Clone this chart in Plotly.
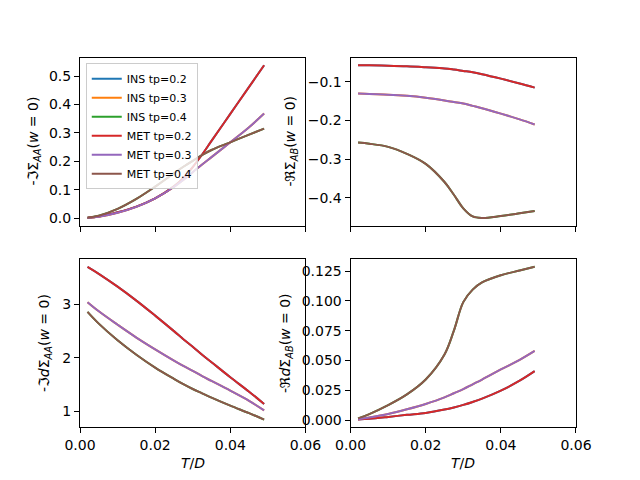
import plotly.graph_objects as go

# Temperature grid T/D
T = [0.002, 0.005, 0.01, 0.015, 0.02, 0.025, 0.0275, 0.03, 0.0325, 0.035, 0.04, 0.045, 0.049]

# -Im Sigma_AA(w=0)
imSAA_tp02 = [0.002, 0.006, 0.021, 0.041, 0.070, 0.112, 0.142, 0.180, 0.224, 0.272, 0.367, 0.462, 0.538]
imSAA_tp03 = [0.001, 0.005, 0.019, 0.040, 0.070, 0.110, 0.135, 0.162, 0.189, 0.215, 0.267, 0.320, 0.368]
imSAA_tp04 = [0.002, 0.009, 0.033, 0.068, 0.111, 0.158, 0.181, 0.202, 0.222, 0.240, 0.267, 0.294, 0.315]

# -Re Sigma_AB(w=0)
reSAB_tp02 = [-0.0568, -0.057, -0.058, -0.0595, -0.062, -0.065, -0.068, -0.0715, -0.075, -0.080, -0.0915, -0.104, -0.1147]
reSAB_tp03 = [-0.130, -0.1315, -0.133, -0.136, -0.141, -0.148, -0.152, -0.156, -0.162, -0.168, -0.182, -0.197, -0.210]
reSAB_tp04 = [-0.257, -0.260, -0.268, -0.286, -0.312, -0.359, -0.392, -0.427, -0.448, -0.452, -0.447, -0.440, -0.434]

# -Im dSigma_AA(w=0)
imdSAA_tp02 = [3.70, 3.57, 3.33, 3.07, 2.79, 2.50, 2.35, 2.21, 2.06, 1.92, 1.64, 1.37, 1.14]
imdSAA_tp03 = [3.04, 2.87, 2.62, 2.38, 2.16, 1.95, 1.85, 1.76, 1.66, 1.57, 1.39, 1.20, 1.02]
imdSAA_tp04 = [2.86, 2.64, 2.33, 2.06, 1.82, 1.61, 1.51, 1.42, 1.34, 1.26, 1.11, 0.97, 0.85]

# -Re dSigma_AB(w=0)
redSAB_tp02 = [0.0004, 0.0010, 0.0026, 0.0044, 0.0060, 0.0088, 0.0106, 0.0127, 0.0152, 0.0180, 0.0247, 0.0330, 0.0410]
redSAB_tp03 = [0.0006, 0.0021, 0.0051, 0.0090, 0.0135, 0.0190, 0.0225, 0.0260, 0.0300, 0.0340, 0.0425, 0.0505, 0.0580]
redSAB_tp04 = [0.0014, 0.0050, 0.0125, 0.0215, 0.0340, 0.0550, 0.0750, 0.0990, 0.1095, 0.1155, 0.1215, 0.1255, 0.1286]

labels = ["INS tp=0.2", "INS tp=0.3", "INS tp=0.4", "MET tp=0.2", "MET tp=0.3", "MET tp=0.4"]
colors = ["#1f77b4", "#ff7f0e", "#2ca02c", "#d62728", "#9467bd", "#8c564b"]

panels = [
    ("x", "y", [imSAA_tp02, imSAA_tp03, imSAA_tp04]),
    ("x2", "y2", [reSAB_tp02, reSAB_tp03, reSAB_tp04]),
    ("x3", "y3", [imdSAA_tp02, imdSAA_tp03, imdSAA_tp04]),
    ("x4", "y4", [redSAB_tp02, redSAB_tp03, redSAB_tp04]),
]

fig = go.Figure()
for pi, (xa, ya, series) in enumerate(panels):
    # INS and MET phases coincide; both are drawn
    for k in range(6):
        vals = series[k % 3]
        fig.add_trace(go.Scatter(
            x=T, y=vals, mode="lines", xaxis=xa, yaxis=ya,
            line=dict(color=colors[k], width=2, shape="spline", smoothing=1.0),
            name=labels[k], showlegend=(pi == 0), legendrank=k + 1,
        ))

def yrange(series):
    lo = min(min(s) for s in series)
    hi = max(max(s) for s in series)
    m = (hi - lo) * 0.05
    return [lo - m, hi + m]

font = dict(family="DejaVu Sans", size=14, color="black")
axis_common = dict(showline=True, linecolor="black", linewidth=1, mirror=True,
                   ticks="outside", ticklen=5, tickwidth=1, tickcolor="black",
                   showgrid=False, zeroline=False, tickfont=font, automargin=False)

xl = [0.125, 0.47727]
xr = [0.54773, 0.9]
yb = [0.11, 0.46]
yt = [0.53, 0.88]

layout = dict(
    width=640, height=480,
    margin=dict(l=0, r=0, t=0, b=0),
    paper_bgcolor="white", plot_bgcolor="white",
    font=font,
    showlegend=True,
    legend=dict(x=0.134, y=0.868, xanchor="left", yanchor="top",
                bgcolor="rgba(255,255,255,0.8)", bordercolor="#cccccc", borderwidth=1,
                font=dict(family="DejaVu Sans", size=11, color="black"),
                tracegroupgap=0, itemwidth=30),
)

xr_vals = [0, 0.06]
xt = [0, 0.02, 0.04, 0.06]
layout["xaxis"] = dict(domain=xl, anchor="y", range=xr_vals, tickvals=xt, showticklabels=False, **axis_common)
layout["xaxis2"] = dict(domain=xr, anchor="y2", range=xr_vals, tickvals=xt, showticklabels=False, **axis_common)
layout["xaxis3"] = dict(domain=xl, anchor="y3", range=xr_vals, tickvals=xt, tickformat=".2f", **axis_common)
layout["xaxis4"] = dict(domain=xr, anchor="y4", range=xr_vals, tickvals=xt, tickformat=".2f", **axis_common)

layout["yaxis"] = dict(domain=yt, anchor="x", range=yrange(panels[0][2]), dtick=0.1, tickformat=".1f", **axis_common)
layout["yaxis2"] = dict(domain=yt, anchor="x2", range=yrange(panels[1][2]), dtick=0.1, tickformat=".1f", **axis_common)
layout["yaxis3"] = dict(domain=yb, anchor="x3", range=yrange(panels[2][2]), dtick=1, tickformat="d", **axis_common)
layout["yaxis4"] = dict(domain=yb, anchor="x4", range=yrange(panels[3][2]), dtick=0.025, tickformat=".3f", **axis_common)

fig.update_layout(**layout)

ann_font = dict(family="DejaVu Sans", size=14, color="black")
ylabels = [
    ("-ℑΣ<sub><i>AA</i></sub>(<i>w</i> = 0)", 34 / 640, 1 - 141.6 / 480),
    ("-ℜΣ<sub><i>AB</i></sub>(<i>w</i> = 0)", 291 / 640, 1 - 141.6 / 480),
    ("-ℑ<i>d</i>Σ<sub><i>AA</i></sub>(<i>w</i> = 0)", 45 / 640, 1 - 343 / 480),
    ("-ℜ<i>d</i>Σ<sub><i>AB</i></sub>(<i>w</i> = 0)", 286 / 640, 1 - 343 / 480),
]
for txt, x, y in ylabels:
    fig.add_annotation(text=txt, x=x, y=y, xref="paper", yref="paper", showarrow=False,
                       textangle=-90, xanchor="center", yanchor="middle", font=ann_font)
for x in [(xl[0] + xl[1]) / 2, (xr[0] + xr[1]) / 2]:
    fig.add_annotation(text="<i>T</i>/<i>D</i>", x=x, y=1 - 463 / 480, xref="paper", yref="paper",
                       showarrow=False, xanchor="center", yanchor="middle", font=ann_font)

fig.write_html("out.html", config={"displayModeBar": False},
               post_script="document.body.style.margin='0';")
